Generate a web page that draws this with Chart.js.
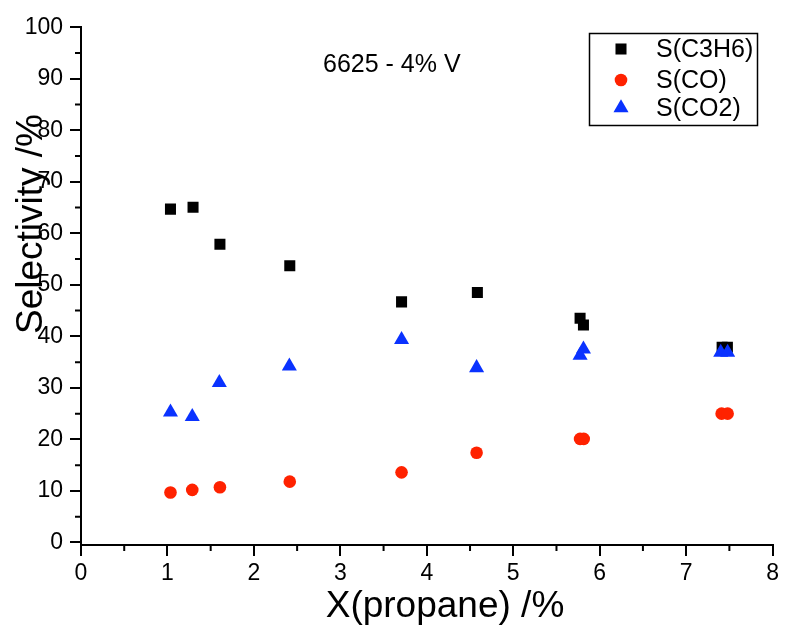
<!DOCTYPE html>
<html>
<head>
<meta charset="utf-8">
<script src="https://cdn.jsdelivr.net/npm/chart.js"></script>
<style>
  html, body { margin: 0; padding: 0; background: #fff; }
  #wrap { width: 785px; height: 625px; }
</style>
</head>
<body>
<div id="wrap"><canvas id="chart" width="785" height="625"></canvas></div>
<script>
// data
const xC3H6 = [1.035, 1.296, 1.607, 2.415, 3.708, 4.585, 5.773, 5.812, 7.416, 7.477];
const yC3H6 = [64.7, 65.05, 57.9, 53.7, 46.7, 48.5, 43.5, 42.2, 37.9, 37.9];
const xCO = [1.035, 1.287, 1.607, 2.415, 3.708, 4.576, 5.773, 5.815, 7.41, 7.48];
const yCO = [9.7, 10.2, 10.7, 11.8, 13.6, 17.4, 20.1, 20.1, 25.0, 25.0];
const xCO2 = [1.035, 1.287, 1.6, 2.41, 3.708, 4.576, 5.773, 5.812, 7.40, 7.48];
const yCO2 = [25.3, 24.4, 31.0, 34.2, 39.35, 33.9, 36.3, 37.5, 36.9, 36.9];

const seriesNames = ['S(C3H6)', 'S(CO)', 'S(CO2)'];
const xTicks = [0, 1, 2, 3, 4, 5, 6, 7, 8];
const yTicks = [0, 10, 20, 30, 40, 50, 60, 70, 80, 90, 100];
const xTitle = 'X(propane) /%';
const yTitle = 'Selectivity /%';
const note = '6625 - 4% V';

const FONT = '"Liberation Sans", Arial, sans-serif';

const toPoints = (xs, ys) => xs.map((x, i) => ({ x: x, y: ys[i] }));

// minor ticks, axis titles, note and the framed legend
const extras = {
    id: 'extras',
    afterDraw(chart) {
        const ctx = chart.ctx;
        const xs = chart.scales.x, ys = chart.scales.y;
        const area = chart.chartArea;
        ctx.save();
        ctx.strokeStyle = '#000';
        ctx.lineWidth = 2;
        ctx.beginPath();
        for (let v = 0.5; v < 8; v += 1) {
            const px = xs.getPixelForValue(v);
            ctx.moveTo(px, area.bottom);
            ctx.lineTo(px, area.bottom + 6);
        }
        for (let v = 5; v < 100; v += 10) {
            const py = ys.getPixelForValue(v);
            ctx.moveTo(area.left, py);
            ctx.lineTo(area.left - 6, py);
        }
        ctx.stroke();

        ctx.fillStyle = '#000';
        ctx.font = '37px ' + FONT;
        ctx.textAlign = 'center';
        ctx.textBaseline = 'alphabetic';
        ctx.fillText(xTitle, 445, 617);
        ctx.save();
        ctx.translate(42, 224);
        ctx.rotate(-Math.PI / 2);
        ctx.fillText(yTitle, 0, 0);
        ctx.restore();

        ctx.font = '25px ' + FONT;
        ctx.textAlign = 'left';
        ctx.fillText(note, 323, 72);

        // legend
        ctx.lineWidth = 1.5;
        ctx.strokeRect(589.5, 33.5, 168, 92);
        const rows = [49, 80, 108];
        chart.data.datasets.forEach((ds, i) => {
            ctx.fillStyle = ds.backgroundColor;
            ctx.strokeStyle = ds.backgroundColor;
            ctx.lineWidth = 0;
            Chart.helpers.drawPoint(ctx, { pointStyle: ds.pointStyle, radius: ds.pointRadius, rotation: 0, borderWidth: 0 }, 621, rows[i]);
            ctx.fillStyle = '#000';
            ctx.font = '25px ' + FONT;
            ctx.fillText(seriesNames[i], 656, rows[i] + 8);
        });
        ctx.restore();
    }
};

new Chart(document.getElementById('chart'), {
    type: 'scatter',
    data: {
        datasets: [{
            label: seriesNames[0],
            data: toPoints(xC3H6, yC3H6),
            pointStyle: 'rect',
            pointRadius: 7.8,
            backgroundColor: '#000000',
            borderWidth: 0,
            order: 3
        }, {
            label: seriesNames[1],
            data: toPoints(xCO, yCO),
            pointStyle: 'circle',
            pointRadius: 6.3,
            backgroundColor: '#ff2200',
            borderWidth: 0,
            order: 2
        }, {
            label: seriesNames[2],
            data: toPoints(xCO2, yCO2),
            pointStyle: 'triangle',
            pointRadius: 8.7,
            backgroundColor: '#0a32ff',
            borderWidth: 0,
            order: 1
        }]
    },
    options: {
        responsive: false,
        animation: false,
        layout: {
            padding: { top: 27.3, right: 10.7, left: 0, bottom: 0 }
        },
        scales: {
            x: {
                type: 'linear',
                min: 0,
                max: 8,
                afterBuildTicks: (scale) => { scale.ticks = xTicks.map(v => ({ value: v })); },
                afterFit: (scale) => { scale.height = 80; },
                grid: { drawOnChartArea: false, tickLength: 11, lineWidth: 2, color: '#000' },
                border: { display: true, color: '#000', width: 2 },
                ticks: {
                    color: '#000',
                    padding: 6,
                    maxRotation: 0,
                    font: { family: FONT, size: 23, lineHeight: 1 }
                }
            },
            y: {
                type: 'linear',
                min: -0.5,
                max: 100,
                afterBuildTicks: (scale) => { scale.ticks = yTicks.map(v => ({ value: v })); },
                afterFit: (scale) => { scale.width = 81; },
                grid: { drawOnChartArea: false, tickLength: 11, lineWidth: 2, color: '#000' },
                border: { display: true, color: '#000', width: 2 },
                ticks: {
                    color: '#000',
                    padding: 7,
                    font: { family: FONT, size: 23, lineHeight: 1 }
                }
            }
        },
        plugins: {
            legend: { display: false },
            tooltip: { enabled: false }
        }
    },
    plugins: [extras]
});
</script>
</body>
</html>
